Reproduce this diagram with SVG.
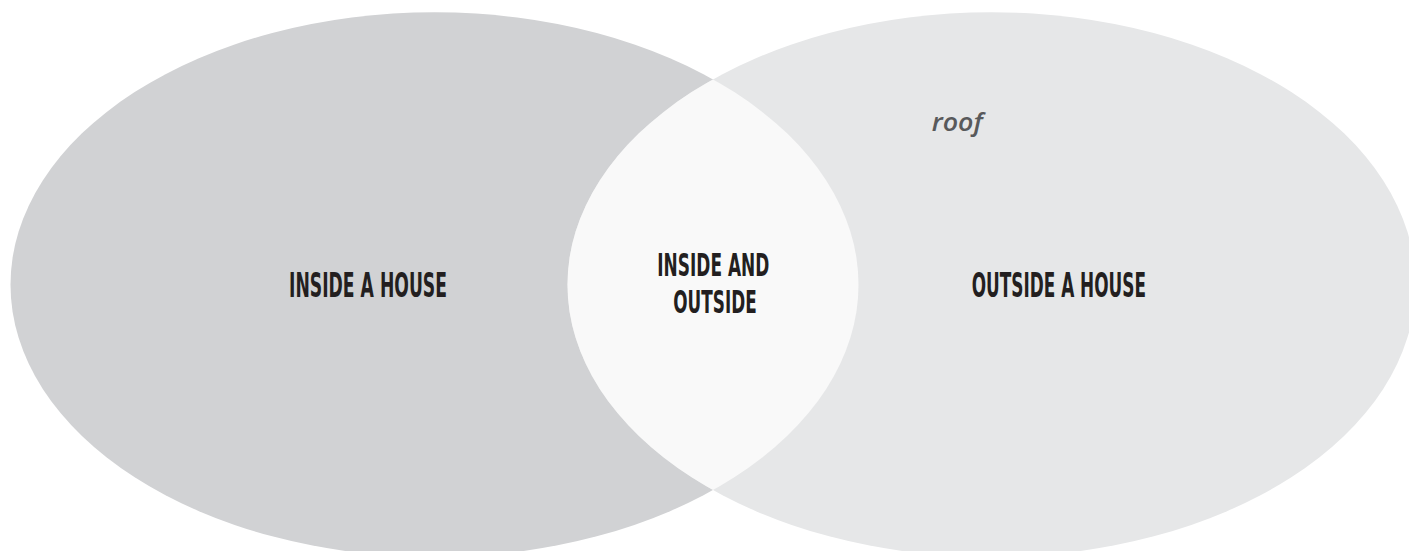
<svg xmlns="http://www.w3.org/2000/svg" width="1409" height="551" viewBox="0 0 1409 551">
  <style>
    .lbl { font-family: "DejaVu Sans Condensed", "DejaVu Sans", "Liberation Sans", sans-serif; font-weight: bold; font-size: 33px; fill: #231F20; text-anchor: start; }
    .note { font-family: "Open Sans", "Liberation Sans", sans-serif; font-style: italic; font-weight: 600; font-size: 26px; fill: #58595B; }
  </style>
  <defs>
    <clipPath id="clipLeft">
      <ellipse cx="434.5" cy="284.7" rx="424" ry="272.4"/>
    </clipPath>
  </defs>
  <rect width="1409" height="551" fill="#FFFFFF"/>
  <g id="set-inside">
    <ellipse cx="434.5" cy="284.7" rx="424" ry="272.4" fill="#D1D2D4"/>
  </g>
  <g id="set-outside">
    <ellipse cx="991.5" cy="284.7" rx="424" ry="272.4" fill="#E6E7E8"/>
  </g>
  <g id="set-both">
    <ellipse cx="991.5" cy="284.7" rx="424" ry="272.4" fill="#F9F9F9" clip-path="url(#clipLeft)"/>
  </g>
  <g id="connectors"></g>
  <g id="labels">
    <text class="lbl" x="289" y="297" textLength="158" lengthAdjust="spacingAndGlyphs">INSIDE A HOUSE</text>
    <text class="lbl" x="657.3" y="276" textLength="112" lengthAdjust="spacingAndGlyphs" style="font-size:32px">INSIDE AND</text>
    <text class="lbl" x="673.3" y="312.7" textLength="83.4" lengthAdjust="spacingAndGlyphs" style="font-size:32px">OUTSIDE</text>
    <text class="lbl" x="971.7" y="297.3" textLength="174.3" lengthAdjust="spacingAndGlyphs">OUTSIDE A HOUSE</text>
    <text class="note" x="931.7" y="130.7" textLength="51" lengthAdjust="spacingAndGlyphs">roof</text>
  </g>
</svg>
